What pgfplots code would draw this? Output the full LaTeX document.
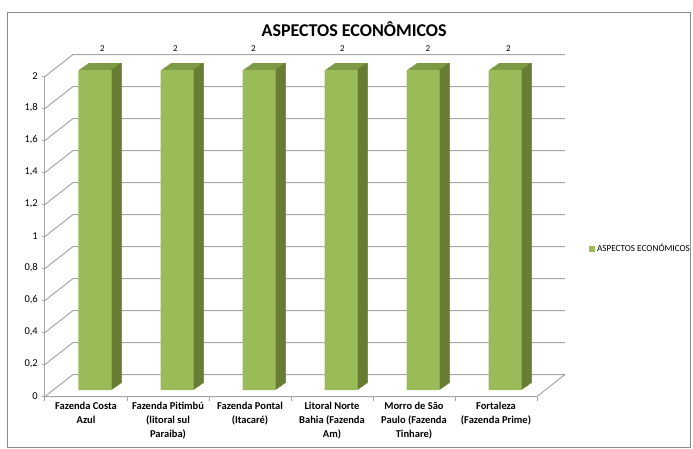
\documentclass[border=0pt]{standalone}
\usepackage{pgfplots}
\pgfplotsset{compat=1.18}
\usepackage{pgfplotstable}
\usepackage{fontspec}
\setmainfont{Carlito}
\definecolor{frontc}{HTML}{9BBB59}
\definecolor{topc}{HTML}{7D9A45}
\definecolor{sidec}{HTML}{637A31}
\definecolor{gridc}{HTML}{A6A6A6}
\definecolor{framec}{HTML}{8C8C8C}

\pgfplotstableread{
x y
0 2
1 2
2 2
3 2
4 2
5 2
}\datatable

\begin{document}
\begin{tikzpicture}
\path (0,0) rectangle (693pt,448pt);
\draw[framec, line width=0.8pt] (7pt,1pt) rectangle (690pt,436pt);
\begin{axis}[
  at={(54pt,58pt)}, anchor=south west,
  scale only axis, width=492pt, height=320pt,
  xmin=-0.5, xmax=5.5, ymin=0, ymax=2,
  clip=false,
  axis line style={draw=none},
  major tick length=0pt,
  xtick={0,1,2,3,4,5},
  xticklabels={{Fazenda Costa\\Azul},{Fazenda Pitimbú\\(litoral sul\\Paraiba)},{Fazenda Pontal\\(Itacaré)},{Litoral Norte\\Bahia (Fazenda\\Am)},{Morro de São\\Paulo (Fazenda\\Tinhare)},{Fortaleza\\(Fazenda Prime)}},
  xticklabel style={font=\bfseries\fontsize{10.5}{13.8}\selectfont, align=center, anchor=north, inner sep=0pt, xshift=-9pt, yshift=-12pt},
  ytick={0,0.2,0.4,0.6,0.8,1,1.2,1.4,1.6,1.8,2},
  yticklabel style={font=\fontsize{10.5}{12}\selectfont, anchor=east, inner sep=0pt, xshift=-16pt, yshift=-6pt},
  title={ASPECTOS ECONÔMICOS},
  title style={font=\bfseries\fontsize{18}{20}\selectfont, at={(axis description cs:0.61,1.11)}, anchor=center},
  legend style={at={(axis description cs:1.087,0.441)}, anchor=west, draw=none, fill=none, font=\fontsize{9.2}{10}\selectfont, inner sep=0pt},
  legend image code/.code={\fill[frontc] (0pt,-3pt) rectangle (6pt,3pt);},
  /pgf/number format/assume math mode=true,
  /pgf/number format/use comma,
  /pgf/number format/fixed,
  /pgf/number format/precision=1,
]
% walls and floor
\pgfplotsinvokeforeach{0,0.2,0.4,0.6,0.8,1,1.2,1.4,1.6,1.8,2}{
  \draw[gridc, line width=1pt] ([xshift=-9pt,yshift=-6.5pt]axis cs:-0.5,#1) -- ([xshift=19pt,yshift=15.5pt]axis cs:-0.5,#1) -- ([xshift=19pt,yshift=15.5pt]axis cs:5.5,#1);
  \draw[gridc, line width=1pt] ([xshift=-9pt,yshift=-6.5pt]axis cs:-0.5,#1) -- ++(-3pt,0pt);
}
\draw[gridc, line width=1pt] ([xshift=-9.5pt,yshift=-6.5pt]axis cs:-0.5,0) -- ([xshift=-9.5pt,yshift=-6.5pt]axis cs:-0.5,2);
\draw[gridc, line width=1pt] ([xshift=-9pt,yshift=-6.5pt]axis cs:-0.5,0) -- ([xshift=-9pt,yshift=-6.5pt]axis cs:5.5,0) -- ([xshift=19pt,yshift=15.5pt]axis cs:5.5,0);
\pgfplotsinvokeforeach{-0.5,0.5,1.5,2.5,3.5,4.5,5.5}{
  \draw[gridc, line width=1pt] ([xshift=-9pt,yshift=-6.5pt]axis cs:#1,0) -- ++(0pt,-4pt);
}
% top faces
\pgfplotsinvokeforeach{1,2,3,4,5,6,7,8,9,10}{
  \addplot[ybar, bar width=33pt, bar shift=0pt, fill=topc, draw=none, xshift=#1pt, yshift=0.7*#1pt, forget plot] table[x=x,y=y]{\datatable};
}
% side faces
\pgfplotsinvokeforeach{1,2,3,4,5,6,7,8,9,10}{
  \addplot[ybar, bar width=1.3pt, bar shift=16pt, fill=sidec, draw=none, xshift=#1pt, yshift=0.7*#1pt, forget plot] table[x=x,y=y]{\datatable};
}
% front faces
\addplot[ybar, bar width=33pt, bar shift=0pt, fill=frontc, draw=none] table[x=x,y=y]{\datatable};
\addlegendentry{ASPECTOS ECONÓMICOS}
% data labels
\addplot[draw=none, forget plot, nodes near coords, point meta=explicit symbolic,
  every node near coord/.append style={font=\fontsize{9}{10}\selectfont, anchor=center, yshift=21pt}]
  coordinates {(0.091,2)[2] (0.982,2)[2] (1.933,2)[2] (3.018,2)[2] (4.061,2)[2] (5.043,2)[2]};
\end{axis}
\end{tikzpicture}
\end{document}
